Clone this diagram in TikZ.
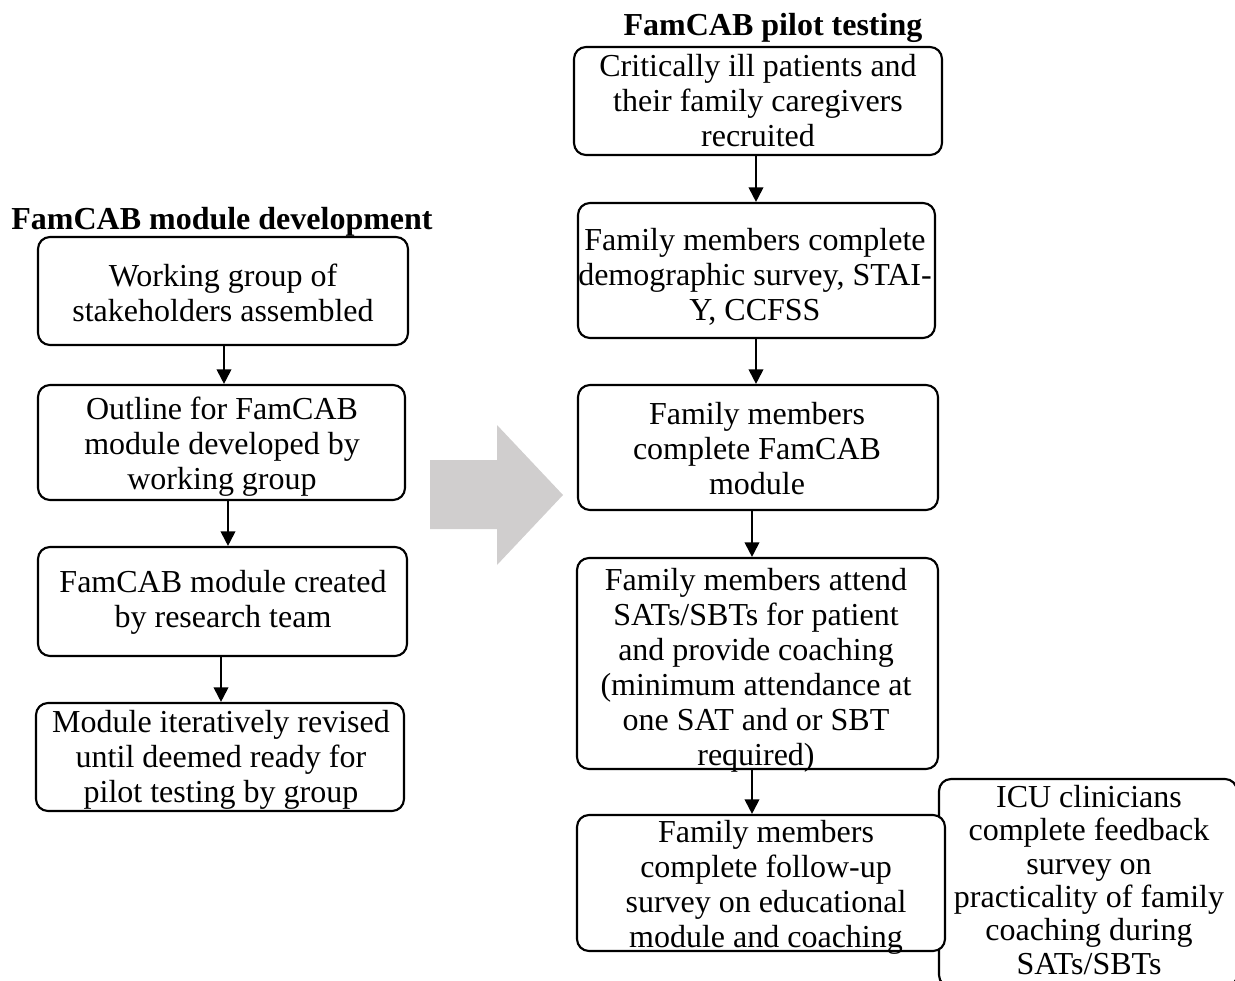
\documentclass[tikz,border=0pt]{standalone}
\usepackage{fontspec}
\setmainfont{Liberation Serif}
\usetikzlibrary{arrows.meta}
\definecolor{bigarrow}{HTML}{D0CECE}
\tikzset{
  box/.style={draw=black, line width=1.6pt, rounded corners=9pt, inner sep=0pt, fill=white},
  txt/.style={inner sep=0pt, align=center, font=\fontsize{24pt}{26.25pt}\selectfont},
  heading/.style={font=\fontsize{24pt}{26.25pt}\selectfont\bfseries, inner sep=0pt},
  flow/.style={line width=1.5pt, -{Triangle[length=11pt,width=11pt]}}
}
\begin{document}
\begin{tikzpicture}[x=0.75pt,y=-0.75pt]
\useasboundingbox (0,0) rectangle (1235,981);
\clip (0,0) rectangle (1235,981);
% big gray arrow
\fill[bigarrow] (430,460) -- (497,460) -- (497,425) -- (563,495) -- (497,565) -- (497,529) -- (430,529) -- cycle;
% headings
\node[heading] (hl) at (222,222) {FamCAB module development};
\node[heading] (hr) at (773,28) {FamCAB pilot testing};
% left column
\node[box, minimum width=370*0.75pt, minimum height=108*0.75pt] (l1) at (223,291) {};
\node[txt] (l1t) at (223,293) {Working group of\\stakeholders assembled};
\node[box, minimum width=367*0.75pt, minimum height=115*0.75pt] (l2) at (221.5,442.5) {};
\node[txt] (l2t) at (222,447) {Outline for FamCAB\\module developed by\\working group};
\node[box, minimum width=369*0.75pt, minimum height=109*0.75pt] (l3) at (222.5,601.5) {};
\node[txt] (l3t) at (223,602) {FamCAB module created\\by research team};
\node[box, minimum width=368*0.75pt, minimum height=108*0.75pt] (l4) at (220,757) {};
\node[txt] (l4t) at (221,760) {Module iteratively revised\\until deemed ready for\\pilot testing by group};
% right column
\node[box, minimum width=368*0.75pt, minimum height=108*0.75pt] (r1) at (758,101) {};
\node[txt] (r1t) at (758,101) {Critically ill patients and\\their family caregivers\\recruited};
\node[box, minimum width=357*0.75pt, minimum height=135*0.75pt] (r2) at (756.5,270.5) {};
\node[txt] (r2t) at (755,277) {Family members complete\\demographic survey, STAI-\\Y, CCFSS};
\node[box, minimum width=360*0.75pt, minimum height=125*0.75pt] (r3) at (758,447.5) {};
\node[txt] (r3t) at (757,448.5) {Family members\\complete FamCAB\\module};
\node[box, minimum width=361*0.75pt, minimum height=211*0.75pt] (r4) at (757.5,663.5) {};
\node[txt] (r4t) at (756,670) {Family members attend\\SATs/SBTs for patient\\and provide coaching\\(minimum attendance at\\one SAT and or SBT\\required)};
\node[box, minimum width=298*0.75pt, minimum height=208*0.75pt] (r6) at (1088,883) {};
\node[txt, font=\fontsize{24pt}{25pt}\selectfont] (r6t) at (1089,880) {ICU clinicians\\complete feedback\\survey on\\practicality of family\\coaching during\\SATs/SBTs};
\node[box, minimum width=368*0.75pt, minimum height=136*0.75pt] (r5) at (761,883) {};
\node[txt] (r5t) at (766,887) {Family members\\complete follow-up\\survey on educational\\module and coaching};
% connectors
\draw[flow] (l1.south -| 224,0) -- (l2.north -| 224,0);
\draw[flow] (l2.south -| 228,0) -- (l3.north -| 228,0);
\draw[flow] (l3.south -| 221,0) -- (l4.north -| 221,0);
\draw[flow] (r1.south -| 756,0) -- (r2.north -| 756,0);
\draw[flow] (r2.south -| 756,0) -- (r3.north -| 756,0);
\draw[flow] (r3.south -| 752,0) -- (r4.north -| 752,0);
\draw[flow] (r4.south -| 752,0) -- (r5.north -| 752,0);
\end{tikzpicture}
\end{document}
